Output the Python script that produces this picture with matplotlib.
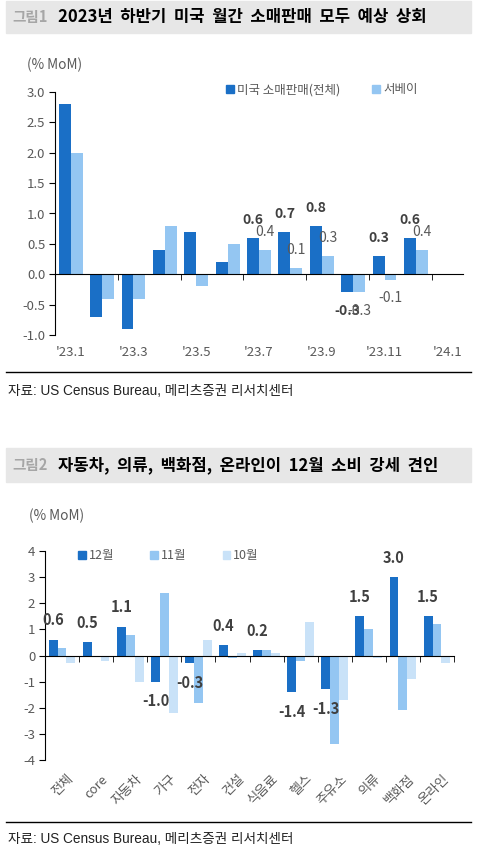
import numpy as np
import matplotlib
matplotlib.use("Agg")
import matplotlib.pyplot as plt
from matplotlib.patches import Rectangle, Patch
from matplotlib.lines import Line2D

plt.rcParams['font.family'] = ['Noto Sans CJK KR', 'DejaVu Sans']
plt.rcParams['axes.unicode_minus'] = False

# ---------------- data ----------------
months = ["'23.1", "'23.2", "'23.3", "'23.4", "'23.5", "'23.6", "'23.7",
          "'23.8", "'23.9", "'23.10", "'23.11", "'23.12", "'24.1"]
retail_total = [2.8, -0.7, -0.9, 0.4, 0.7, 0.2, 0.6, 0.7, 0.8, -0.3, 0.3, 0.6]
survey = [2.0, -0.4, -0.4, 0.8, -0.2, 0.5, 0.4, 0.1, 0.3, -0.3, -0.1, 0.4]
labeled_from = 6  # values labeled from '23.7

categories = ['전체', 'core', '자동차', '가구', '전자', '건설', '식음료', '헬스',
              '주유소', '의류', '백화점', '온라인']
dec = [0.6, 0.5, 1.1, -1.0, -0.3, 0.4, 0.2, -1.4, -1.3, 1.5, 3.0, 1.5]
nov = [0.3, 0.0, 0.8, 2.4, -1.8, -0.1, 0.2, -0.2, -3.4, 1.0, -2.1, 1.2]
oct_ = [-0.3, -0.2, -1.0, -2.2, 0.6, 0.1, 0.1, 1.3, -1.7, -0.1, -0.9, -0.3]

title1 = '2023년 하반기 미국 월간 소매판매 모두 예상 상회'
title2 = '자동차, 의류, 백화점, 온라인이 12월 소비 강세 견인'
source = '자료: US Census Bureau, 메리츠증권 리서치센터'

C_DARK = '#1a6fc6'
C_MID = '#94c6f2'
C_LIGHT = '#c9e2f8'
TXT = '#595959'
LAB = '#404040'

W, H = 486, 855
fig = plt.figure(figsize=(W / 100, H / 100), dpi=100)


def fx(p):
    return p / W


def fy(p):
    return 1 - p / H


def header(y0, y1, num, text):
    fig.patches.append(Rectangle((fx(6), fy(y1)), fx(471) - fx(6), fy(y0) - fy(y1),
                                 transform=fig.transFigure, color='#e7e7e7', zorder=0))
    yc = fy((y0 + y1) / 2)
    fig.text(fx(12), yc, num, ha='left', va='center', fontsize=10.5,
             fontweight='bold', color='#a6a6a6')
    fig.text(fx(58), yc, text.replace(' ', '  '), ha='left', va='center', fontsize=12,
             fontweight='bold', color='black')


def footer(yline, ytext):
    fig.add_artist(Line2D([fx(6), fx(471)], [fy(yline)] * 2, color='black', lw=1,
                          transform=fig.transFigure))
    fig.text(fx(8), fy(ytext), source, ha='left', va='center', fontsize=9.8,
             color='#222222', family=['Liberation Sans', 'Noto Sans CJK KR'])


def style_axes(ax):
    ax.spines['top'].set_visible(False)
    ax.spines['right'].set_visible(False)
    ax.spines['left'].set_color('black')
    ax.spines['bottom'].set_color('black')
    ax.spines['bottom'].set_position(('data', 0))
    ax.tick_params(axis='y', direction='out', length=4, color='black',
                   labelcolor=TXT, labelsize=9.5, pad=3)
    ax.set_xticks([])
    ax.tick_params(axis='x', which='minor', direction='out', length=4, color='black')
    ax.set_facecolor('none')


# ---------------- chart 1 ----------------
header(1, 33, '그림1', title1)
ax1 = fig.add_axes([fx(55), fy(335), fx(463) - fx(55), fy(92) - fy(335)])
x1 = np.arange(len(retail_total))
bw1 = 0.38
ax1.bar(x1 - bw1 / 2, retail_total, bw1, color=C_DARK, zorder=2)
ax1.bar(x1 + bw1 / 2, survey, bw1, color=C_MID, zorder=2)
ax1.set_xlim(-0.5, len(months) - 0.5)
ax1.set_ylim(-1.0, 3.0)
ax1.set_yticks(np.arange(-1.0, 3.01, 0.5))
ax1.set_yticklabels([f'{v:.1f}' for v in np.arange(-1.0, 3.01, 0.5)])
style_axes(ax1)
ax1.set_xticks(np.arange(1.5, 12, 2), minor=True)
for i in range(0, len(months), 2):
    ax1.text(i, -0.07, months[i], transform=ax1.get_xaxis_transform(),
             ha='center', va='center', fontsize=9.5, color=TXT)
for i in range(labeled_from, len(retail_total)):
    v = retail_total[i]
    ax1.annotate(f'{v:.1f}', (i - bw1 / 2, v), xytext=(0, 13 if v >= 0 else -13),
                 textcoords='offset points', ha='center', va='center',
                 fontsize=10, fontweight='bold', color=LAB, zorder=3)
    s = survey[i]
    ax1.annotate(f'{s:.1f}', (i + bw1 / 2, s), xytext=(0, 13 if s >= 0 else -13),
                 textcoords='offset points', ha='center', va='center',
                 fontsize=10, color=TXT, zorder=3)
fig.text(fx(27), fy(65), '(% MoM)', ha='left', va='center', fontsize=9.8, color=TXT)
leg1 = fig.legend(handles=[Patch(color=C_DARK, label='미국 소매판매(전체)'),
                           Patch(color=C_MID, label='서베이')],
                  loc='center left', bbox_to_anchor=(fx(226), fy(90)), ncol=2,
                  frameon=False, fontsize=9, handlelength=0.6, handleheight=0.6,
                  handletextpad=0.25, columnspacing=2.6, borderpad=0, borderaxespad=0)
for t in leg1.get_texts():
    t.set_color(TXT)
footer(372, 391)

# ---------------- chart 2 ----------------
header(448, 482, '그림2', title2)
ax2 = fig.add_axes([fx(45), fy(760), fx(454) - fx(45), fy(551) - fy(760)])
x2 = np.arange(len(categories))
bw2 = 0.26
ax2.bar(x2 - bw2, dec, bw2, color=C_DARK, zorder=2)
ax2.bar(x2, nov, bw2, color=C_MID, zorder=2)
ax2.bar(x2 + bw2, oct_, bw2, color=C_LIGHT, zorder=2)
ax2.set_xlim(-0.5, len(categories) - 0.5)
ax2.set_ylim(-4, 4)
ax2.set_yticks(np.arange(-4, 5, 1))
style_axes(ax2)
ax2.set_xticks(np.arange(0.5, len(categories), 1), minor=True)
for i, c in enumerate(categories):
    ax2.text(i + 0.15, -0.06, c, transform=ax2.get_xaxis_transform(),
             ha='right', va='top', rotation=45, rotation_mode='anchor',
             fontsize=9.5, color=TXT)
for i, v in enumerate(dec):
    ax2.annotate(f'{v:.1f}', (i - bw2, v), xytext=(0, 14 if v >= 0 else -14),
                 textcoords='offset points', ha='center', va='center',
                 fontsize=10.5, fontweight='bold', color=LAB, zorder=3)
fig.text(fx(29), fy(516), '(% MoM)', ha='left', va='center', fontsize=9.8, color=TXT)
leg2 = fig.legend(handles=[Patch(color=C_DARK, label='12월'),
                           Patch(color=C_MID, label='11월'),
                           Patch(color=C_LIGHT, label='10월')],
                  loc='center left', bbox_to_anchor=(fx(78), fy(556)), ncol=3,
                  frameon=False, fontsize=9, handlelength=0.6, handleheight=0.6,
                  handletextpad=0.25, columnspacing=2.9, borderpad=0, borderaxespad=0)
for t in leg2.get_texts():
    t.set_color(TXT)
footer(822, 839)

fig.savefig('out.png', dpi=100)
